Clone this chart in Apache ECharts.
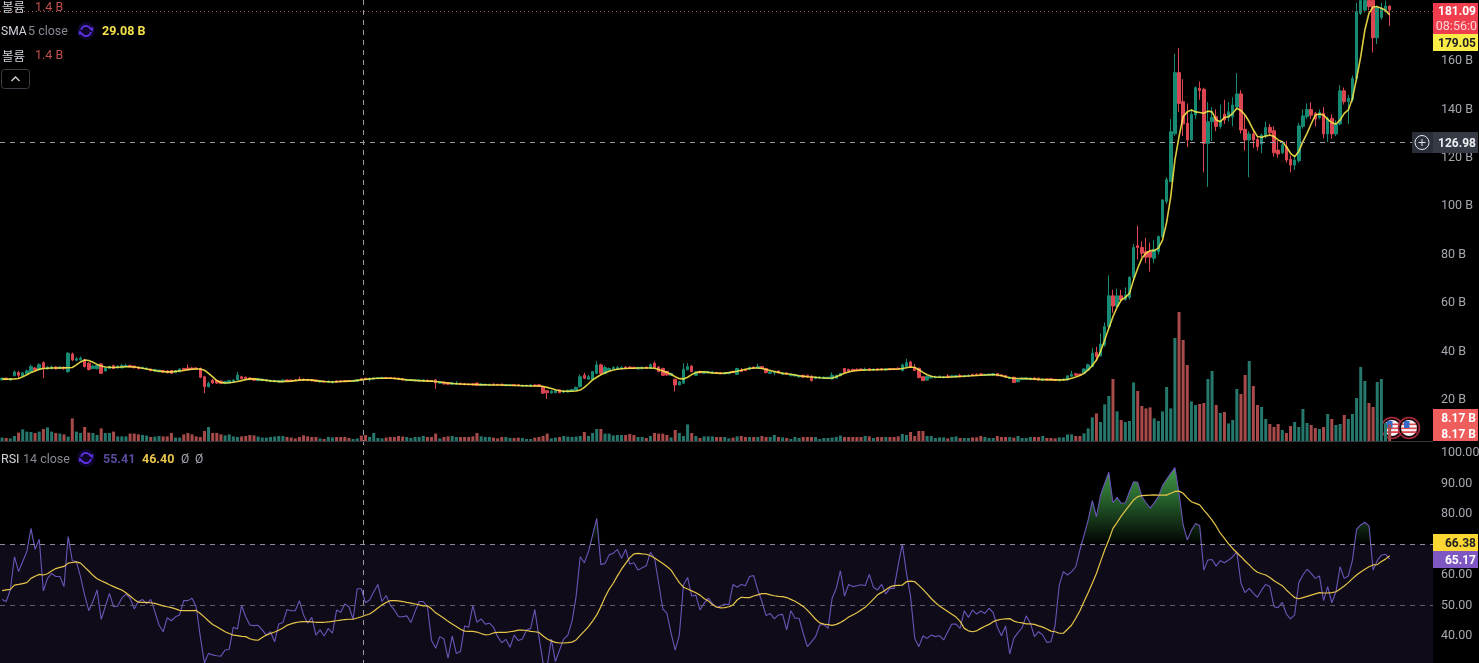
<!DOCTYPE html>
<html><head><meta charset="utf-8">
<style>html,body{margin:0;padding:0;background:#000;overflow:hidden}#c{width:1479px;height:663px}</style>
<script src="https://cdn.jsdelivr.net/npm/echarts@6/dist/echarts.min.js"></script>
</head><body><div id="c"></div>
<script>
const opens=[
28.3,29.0,28.2,30.0,31.3,30.0,30.8,31.6,33.2,32.5,
35.4,32.8,33.0,33.6,33.0,33.5,31.7,39.0,36.4,36.6,
36.6,35.2,33.0,32.9,34.9,32.0,33.0,34.2,33.2,33.3,
33.7,34.3,34.0,33.6,33.0,32.6,32.8,31.9,31.7,32.2,
32.0,32.2,31.3,31.6,33.0,33.2,33.2,33.2,33.0,29.6,
25.5,28.2,28.0,27.8,26.8,27.0,27.4,28.3,29.6,29.4,
29.1,28.9,28.0,28.0,27.9,27.6,27.5,27.4,27.5,28.3,
28.2,28.3,28.6,28.6,28.5,28.4,28.2,27.4,27.8,27.2,
27.1,27.9,27.9,28.0,28.0,27.6,27.7,
28.8,29.0,28.4,28.6,28.8,28.9,29.3,29.3,29.2,29.0,
28.8,28.0,28.0,27.9,27.8,27.8,28.2,28.0,28.3,26.9,
27.4,27.2,26.5,26.4,26.9,26.8,26.6,26.7,27.0,26.0,
26.0,26.0,26.6,26.5,26.5,25.9,25.9,26.4,26.3,25.7,
25.7,25.7,26.2,26.3,25.5,23.8,22.9,23.0,24.2,23.2,
23.3,23.6,24.0,25.5,30.2,28.6,28.5,31,34.5,30.9,
32.2,32.8,32.7,32.9,33.6,33.6,33.5,32.8,32.9,33.6,
33.0,35.2,33.6,33.0,31.8,30.2,28.5,26.2,26.9,32.5,
34.0,30.2,31.8,31.0,31.2,31.0,31.4,
31.3,30.8,30.9,31.8,30.6,32.4,32.6,32.6,33.6,33,
33.8,33,31,31.2,32,30.6,31.2,30,29.9,29.5,
30.2,30.2,29.9,28.8,29,28.9,28.9,28.7,29,30,
33,32.6,32.6,32.7,32.8,32.2,32.9,32.3,32.9,32.9,
32.4,33,33,33.1,32.1,33.8,35.7,33.5,33.1,29.6,
28.2,29.1,29.2,29.3,29.2,29.9,29.5,29.5,30.1,29.6,
29.7,30.6,30.6,30.8,30.1,30.1,30.2,30.9,30.4,30.1,
28.9,29.4,27.5,28.4,28.5,28.4,29.1,29,28.1,28.7,28.8,
28.5,27.9,28.2,28.3,29.8,30.8,30.7,31,32.4,33.8,
39.6,38.2,42.7,50.3,63,58.8,63,61.5,62.4,70.7,
83.7,83,81.3,81.3,78.5,81.3,87.4,102,110.2,130,
155.2,143.2,134.3,127.4,137.7,148.7,148.3,126,134.9,137,
133,138,136.7,137,141,146.4,131.8,127.4,129.9,127.6,
125.7,129,132.6,131.2,123.2,122.1,124.6,119.4,117,118.8,
133,137,140,138.4,136.7,138.4,129.9,136.3,129.9,134,
147.7,143.2,144,152.8,179.7,181,185,185,169.6,178,
181.3,182.7];
const closes=[
29.0,28.4,28.8,31.6,30.2,31.2,32.0,33.8,32.4,34.6,
33.0,33.6,33.7,32.9,33.6,33.0,39.3,36.5,37.0,37.3,
33.8,32.6,34.0,34.2,31.0,33.2,33.8,33.0,33.9,34.2,
34.2,33.6,33.3,32.9,33.5,33.2,32.1,32.6,32.3,31.6,
31.2,31.0,32.0,32.8,32.4,32.5,32.7,32.8,29.4,25.5,
26.9,27.0,27.0,26.9,27.6,28.0,28.2,30.3,28.8,28.8,
28.4,28.1,28.8,28.6,28.4,28.1,28.0,28.0,28.2,27.7,
27.8,28.0,28.1,28.1,28.0,27.9,27.7,27.9,27.4,27.8,
27.7,27.3,27.5,27.6,27.7,28.0,28.3,
28.3,28.5,28.9,29.1,29.2,29.3,28.9,28.9,28.8,28.6,
28.3,28.5,28.4,28.3,28.2,28.3,27.8,27.6,27.0,27.5,
26.6,26.5,27.2,27.0,26.4,26.3,26.2,26.2,26.0,26.6,
26.5,26.5,26.2,26.1,26.0,26.4,26.3,26.0,25.9,26.1,
26.1,26.2,25.8,25.6,22.8,23.0,23.7,24.0,23.0,23.8,
24.0,24.3,25.2,29.6,29.0,29.6,31.7,34.5,31,33.4,
33,33.4,33.4,33.5,33,33,33,33.4,33.5,33.1,
34.6,33.4,31.8,30.2,30.3,31.0,26.2,27.5,32.7,33.8,
31.7,31.6,31.2,31.6,31.7,31.6,31.0,
30.9,31.3,31.4,31.3,33,31.8,32.1,33.4,33,33.8,
33.1,31.3,31.6,31.8,31.2,31.2,30.6,30.6,30.5,30.1,
29.4,29.4,28,29.4,29.5,29.4,29.4,30.2,30.2,31,
31.2,31.9,32,32.1,32.3,32.7,32.3,32.8,32.4,32.4,
32.9,32.5,32.6,32.6,34.5,35.4,33.5,32.2,29.2,28,
29.8,29.6,29.7,29.8,29.7,29.4,30,30.1,29.6,30.1,
30.2,30.1,30.2,30.2,30.6,30.7,30.8,30,30,29.4,
29.4,27.2,28.4,29,29.1,29,28.5,28.3,28.7,28.2,28.3,
28,28.4,28.6,30,30.6,30.2,30.3,32.8,34.5,39.3,
37.9,43.1,50.3,63,58.8,63,61.3,63.4,70.7,83,
83,80.6,79,79,82.2,87.5,102.6,111,130.8,155.2,
142.5,134,127.4,138,149,147.8,126,134.9,136.7,133,
135.5,135.6,139,141.8,146.4,131.5,127.4,129.9,127.4,124.6,
129.4,132.5,130.4,122.1,121.6,125.3,119.1,117,119.1,133.2,
137.3,140,137.6,136,138.7,129.9,136.3,129.9,134,147.7,
143.2,144.6,152.8,180.4,185,185,182.5,169.6,182.2,181.8,
182.7,181.09];
const highs=[
29.2,29.2,29.1,32.2,32.0,31.5,32.6,34.6,33.6,35.2,
36.0,34.0,34.2,34.0,34.0,33.8,39.8,39.6,37.8,38.0,
37.0,35.6,34.6,34.6,35.2,33.6,34.2,34.6,34.4,34.8,
35.0,34.5,34.2,33.8,33.8,33.5,33.0,32.9,32.6,32.4,
32.3,32.4,32.3,33.1,33.3,34.6,33.5,33.6,33.4,30.0,
27.6,28.6,28.3,28.0,27.9,28.3,28.6,31.6,30.0,29.7,
29.4,29.1,29.0,28.9,28.6,28.4,28.3,28.3,28.6,28.5,
28.4,28.6,29.6,28.8,28.7,28.6,28.4,28.1,28.0,28.0,
27.9,28.1,28.1,28.2,28.2,28.2,28.6,
29.0,29.2,29.3,29.4,29.5,29.6,29.5,29.5,29.4,29.2,
29.0,28.7,28.6,28.5,28.4,28.6,28.4,28.2,28.6,27.8,
27.6,27.4,27.5,27.8,27.1,27.0,26.8,26.9,27.2,26.9,
26.7,26.7,26.8,26.6,26.7,26.6,26.5,26.6,26.5,26.3,
26.3,26.6,26.4,26.5,25.7,24.0,23.9,24.2,24.4,24.0,
24.3,24.6,25.6,30.6,31.2,30.4,32,36,35,34.2,
33.4,34.0,34.2,33.9,34.0,34.0,33.8,33.8,33.8,33.8,
35.0,36.0,34.0,33.4,32.0,31.2,28.8,27.8,35.2,35.2,
34.4,31.9,32.1,31.9,32.0,31.9,31.6,
31.5,31.5,31.6,32.0,33.3,33.2,32.8,33.8,33.8,35,
34,33.3,31.9,32,32.2,31.5,31.4,30.8,30.8,30.4,
30.4,30.4,30.1,29.7,29.8,29.7,29.6,31.4,30.4,31.2,
33.2,32.9,32.9,33,33,33.4,33.2,33,33.1,33.1,
33.1,33.2,33.2,33.4,35,37,36.2,34.8,33.3,29.9,
30,30.2,30.0,30.1,29.9,30.7,30.3,30.3,30.8,30.4,
30.6,30.8,31,31,30.8,30.9,31,31.2,30.6,30.3,
29.6,29.6,28.6,29.3,29.4,29.3,29.4,29.3,28.9,28.9,29,
28.8,28.6,28.9,30.2,32,31.2,30.9,33,35,41.4,
42,47.5,52,71.5,65.5,66,65.5,66.5,71,84.5,
92,85.5,87,85,86,88,103,112,136,163,
165.3,152.5,142.5,140,149.5,151.5,149,143,141,140,
142,144,143,145,155,148,138,131,131,129,
130,135,134,133,127,127,127,121,121,134.5,
140,142.5,143,139,140,141,137,138,135.5,150,
149,146,154,184,187,187,187,187,183,184,
185,183];
const lows=[
28.1,28.2,28.0,29.8,28.6,29.6,30.6,31.4,31.8,32.2,
29.0,32.6,32.6,32.6,32.8,32.4,31.2,36.0,36.0,36.2,
33.4,32.2,32.7,32.6,30.8,31.8,32.8,32.8,33.0,33.0,
33.5,33.4,33.1,32.7,32.8,32.4,31.9,31.7,31.4,31.3,
31.0,30.8,31.1,31.4,32.2,32.3,32.4,32.5,29.0,22.8,
25.2,26.6,26.6,26.5,26.5,26.8,27.2,28.1,28.5,28.5,
28.2,27.9,27.8,27.8,27.7,27.4,27.3,27.2,27.3,27.5,
27.6,27.8,27.9,27.9,27.8,27.7,27.5,27.2,27.2,27.0,
26.9,27.1,27.3,27.4,27.5,27.4,27.5,
28.1,28.3,27.6,28.4,28.6,28.7,28.7,28.7,28.6,28.4,
28.1,27.8,27.8,27.7,27.6,27.6,27.6,27.4,24.6,26.7,
26.4,26.2,26.3,26.2,26.2,26.1,26.0,26.0,25.7,25.8,
25.8,25.8,26.0,25.9,25.8,25.7,25.7,25.8,25.7,25.5,
25.5,25.5,25.6,25.4,22.6,20.4,22.7,22.8,22.8,22.9,
23.1,23.4,23.8,25.2,28.6,28.4,28.2,30.7,30.6,30.6,
32,32.6,32.5,32.7,32.8,32.8,32.8,32.6,32.7,32.9,
32.8,33.0,31.4,30.0,30.0,30.0,23.5,26.0,26.7,32.2,
31.4,30.0,31.0,30.8,31.0,30.8,30.8,
30.7,30.6,30.7,31.1,30.4,31.6,31.9,32.4,32.8,32.8,
32.9,31,30.8,30.2,31,30.4,30.4,29.8,29.7,29.3,
29.2,29.2,27.6,28.6,28.8,28.6,28.6,28.5,28.8,29.8,
31,31.6,31.8,31.9,32,32,32,32.1,32.2,32.2,
32.2,32.3,32.4,32.4,32,33.6,33.2,32,29,27.8,
28,28.9,29,29.1,29,29.2,29.3,29.3,29.4,29.4,
29.5,29.9,30,30,29.9,29.9,30,29.8,29.8,29.2,
28.7,27,27.3,28.2,28.3,28.2,28.3,27.8,27.9,28,28.1,
27.8,27.7,28,28,29.6,29.9,30.1,30.8,32,33.5,
36,38,42,49,56,58,60.5,61,61.5,69,
78,79,76.5,73,76.6,80,87,101,110,129,
139,129,124.5,127,136,144,114,108,127,131,
132,134,135,133,140,130,123,112,124,123,
122,128,129,120.5,120,121.5,118,114,115,118,
132,136,136,133,136,128,126.5,128,129,133.5,
142,134,143,152,179,180,181,163.5,167,177,
180,174.5];
const volumes=[
1.7,1.5,1.3,2.5,4.2,5.8,4.7,4.5,4,4.7,
6,6.8,4.7,4,3.7,3.3,2.2,11.3,4.7,4,
7,4.2,4,3,6.3,4,4,4.7,2.3,2.3,
2.3,3.7,3.7,3.3,3,2.7,2,2.2,2.5,2.3,
2.3,4,1.7,1.7,3.3,4,3.3,2.3,2,5,
7,4,4,3.3,2.8,3.3,2.3,2,2.3,2.5,
3,2.8,2.2,1.7,1.7,2,2.2,2.5,2.5,2,
1.7,1.3,2,2.8,2.3,2,2,1.3,1,2,
1.8,2,2,2,1.5,1,1.3,
2.7,3,2,4,1.5,1.3,1.7,2,2,2.5,
2.2,2,1.5,2,2,2.5,2,2,3.7,1.3,
2,2.3,2.5,2,2,2,2,2.3,4,2.3,
2,2,1.7,1.3,2,2,1.5,1.5,1.7,1.5,
1,1,1.7,2,2.5,3.7,1.3,1.7,2,2.5,
2.2,2,2.2,2.5,4.5,2.5,4,6,6,3.7,
3.7,2.8,3,3,3,3.5,3,2,2,1.5,
2.5,4,3.7,3.7,3,1.8,5.5,4,2.5,8.3,
4,2.5,1.5,2.3,2.3,2.3,2,
2,2,1.3,1.7,2.3,2.5,2,2,2,2,
2.5,2,2,3,2,1.8,1.5,1,2,1.5,
2,2,2,2,1,1.5,1.5,1.7,2,2.7,
2,2,2,2,2,2.5,2.3,1.5,2,2,
2,2,2,2.3,3.5,3,4.5,2.5,5,5,
2.5,2.5,1.5,1.8,1.8,1.3,2,2.3,1.5,1.5,
1.5,1.8,1.8,2.5,2,1.5,1.5,2.5,2,2,
2,1.7,2.5,1.5,1.5,2,2,2,2.5,1.5,1.5,
1.3,1.8,1.8,3.3,3.3,2.5,2.5,3.8,6.3,11.8,
13.8,9.5,18.3,22.5,31,14.8,10.5,9.5,10,29.3,
25,17.5,16.3,16.8,11.3,10,14.8,27,16.3,51.5,
64.5,50.5,38,19.8,18,18.5,19,31,35,18,
14,14.5,8.8,10.5,26,23.5,33,40,27.5,18,
17,11,8.5,7,8.5,5.5,4,7.5,9.5,7,
16,9,8,6.5,6,7,13.5,11,8,8.5,
13,11,13.5,21.5,37,30,19,17,29.5,31,
9,8.17];
const sma5=[
28.7,28.6,28.6,28.7,28.9,29.6,30.4,31.3,32,32.7,
33,33.1,33.2,33.2,33.2,33.3,33.3,33.4,34.5,35.7,
36.5,36.3,35.6,34.7,34,33.6,33.5,33.4,33.5,33.6,
33.7,33.7,33.6,33.4,33.1,32.8,32.5,32.2,31.9,31.7,
31.6,31.6,31.8,32,32.2,32.5,32.7,32.8,32.8,32.3,
31,29.5,28,27.2,27,27.1,27.3,27.6,28,28.4,
28.7,28.7,28.5,28.3,28.1,27.9,27.8,27.6,27.6,27.7,
27.8,28,28.2,28.3,28.3,28.2,28,27.8,27.6,27.5,
27.4,27.5,27.6,27.7,27.8,27.9,28.1,28.3,28.5,28.7,
28.9,29,29,29,29,28.9,28.7,28.5,28.3,28.2,
28.1,28,27.9,27.8,27.8,27.6,27.4,27.2,27,26.8,
26.7,26.6,26.5,26.5,26.4,26.4,26.3,26.3,26.2,26.2,
26.2,26.2,26.1,26.1,26,26,25.9,25.9,25.8,25.8,
25.8,25.6,25.2,24.7,24.2,23.8,23.6,23.6,23.6,23.7,
24.1,25.2,26.7,28.3,29.4,30.4,31.2,31.9,32.4,32.7,
32.9,33,33.1,33.1,33.2,33.2,33.2,33.2,33.1,32.6,
32,31.4,30.6,29.6,28.8,28.7,29.4,30.5,31.3,31.6,
31.6,31.4,31.2,31.1,31,31.1,31.3,31.6,31.9,32.3,
32.7,33,33.2,33.2,33,32.6,32.2,31.8,31.4,31,
30.8,30.6,30.3,30,29.8,29.6,29.5,29.4,29.2,29.1,
29,29.1,29.6,30.3,31,31.6,32,32.2,32.3,32.4,
32.4,32.5,32.5,32.6,32.6,32.7,32.7,32.8,33,33.3,
33.6,33.4,32.5,31.4,30.4,29.8,29.5,29.4,29.4,29.4,
29.5,29.6,29.7,29.8,29.9,30,30.1,30.2,30.3,30.4,
30.5,30.3,30,29.6,29.2,29,28.9,28.9,28.8,28.7,
28.6,28.5,28.4,28.4,28.3,
28.3,28.3,28.3,28.5,29,29.5,30.1,31,32.4,34.2,
36.5,40,44.8,49.6,54.4,58.3,61.3,62.4,64,69.6,
74.4,78.5,80.6,81.7,81.7,82.7,86,93.4,104,119,
128.8,137,139,139.8,139,138.7,138.4,139.3,139,135.6,
134.9,136.7,137,138.4,140.5,139.5,137.7,134.9,131.5,128.8,
128.5,129,129.4,128.8,127.4,126.7,124.6,121.9,120.5,122.6,
126.7,130.1,134,137.7,138.1,137.7,135.9,134.5,134,135.6,
138.4,139.8,144.6,152.8,161.8,172.8,179.7,182.4,182.4,181.8,
181,179.05];
const rsi14=[
52.0,51.3,55.1,66,61.1,64.4,67.7,75.3,68.4,71.7,
54.8,58.9,60.5,59.5,59.5,56.2,72.6,64.7,64.4,59.5,
53.4,48.3,51.3,55.1,45.5,49.6,54,49.6,49.8,52.4,
53.7,52.4,48.9,51.3,52,50.5,52,48,43.6,41.4,
46,45,46.3,46.9,51.6,51.6,52.4,49.6,39.8,31.2,
34.3,33.8,33.5,33.4,35.4,35.6,42.9,42.3,50,46.3,
43.6,43.4,43.5,42,40.3,41.4,38.1,43.9,44.4,48.7,
48.3,48.3,51.6,46.9,44.2,46.1,40.3,42,40,42.5,
40.9,48.5,47.8,50.5,49.6,45.5,55.5,55.5,50.9,51.8,
54.5,56.9,51.3,53.3,50.2,48.5,46.3,46.3,46.6,44.4,
48,51.3,51.3,49.6,38.5,36,39.8,39,32.7,40,
34.3,34.9,43.3,42.9,50,44.5,45.6,43.9,44.2,42.9,
39.8,37.8,38.9,36.3,40.3,38.5,39,42,42.5,48.7,
39.8,31.2,30,39,31.6,35.4,39,40.3,44.7,52.9,
66,64,67.7,73.1,78.6,63.4,63.8,66.6,67.1,68.4,
65.5,68.4,63.6,64,61.6,62.4,63,67.4,65.5,57.3,
48.9,47.4,40.9,35.4,40.3,56.7,59.2,53.1,53.4,48.5,
50.7,52.4,50.7,49.4,49.8,50.5,50.2,56.9,56,56.9,
56.5,59.5,59.8,55.1,51.3,46.7,47.4,45.6,46.9,47.1,
42,48.3,45.8,45.8,40.9,36.5,38.1,39.8,43.6,43.8,
42.5,52.4,55.6,61.4,53.1,56.9,56.2,56.5,56.8,56.5,
60.2,56,55.1,56.9,53.8,55.6,55.6,63.3,70.1,60.6,
52.9,39.2,36.5,40,39.2,40.3,39.8,40.1,38.7,41.4,
43.9,43.9,42.5,48.3,46.1,48.5,47.2,48.2,47.4,49.1,
47.7,42.9,40.1,43.3,34.1,39.2,41.1,42.7,46.6,44.2,
39.8,41.4,40.3,37.9,38.1,43.6,56.7,61.1,
60,61.1,62.7,68.2,73.1,78,84.4,79.1,86.2,90,
93.7,83.7,85.5,83.5,83.7,87.3,90.6,90.4,85.7,83.7,
81.9,83.7,85.7,89.3,91.4,93.3,95.2,86.8,76.4,71.5,
74.7,76.9,76.2,61.6,64.9,65.1,62.9,64.7,64,64.9,
66,67.6,57.3,54.2,55.6,54,52.7,55.1,56.9,56.2,
49.6,49.3,51,47.2,45.6,46.9,57.5,60,61.9,60.5,
58.9,59.7,51.6,56.2,50.9,54.5,62.7,58.9,59.7,64.9,
75,76.4,77.3,76.1,61.6,64.7,66.5,66.8,65.2];
const rsiMa=[
54.9,55.1,55.3,56.7,56.9,57.2,57.5,58.9,59.6,60.2,
60,60.4,61.3,62.1,62.5,62.8,63.9,64.1,64.3,63.9,
62.6,61.3,59.9,58.8,58.1,57.5,56.8,56.2,55.6,55.1,
54.2,53.1,52,51.1,51,51,50.9,50.7,50.3,49.9,
49.6,49.3,48.9,48.4,48.3,48.3,48.3,48.4,47.4,46.2,
44.9,43.8,43,42.2,41.4,40.8,40.3,40.1,39.9,39.8,
39.1,38.7,38.6,39.5,40.3,40.8,41.3,41.9,42.6,43.5,
44,44.4,44.6,44.7,44.7,44.6,44.5,44.5,44.5,44.6,
44.8,45,45.2,45.4,45.5,45.5,45.9,46.3,46.8,47.2,
48.1,49.2,50.2,51,51.6,51.6,51.5,51.3,51,50.8,
50.5,50.2,49.9,49.9,48.9,47.6,46.7,45.8,44.8,43.9,
43.1,42.2,41.6,41.5,41.5,41.3,40.8,40.4,40.5,41,
41.2,41.2,41.2,41.4,41.6,41.9,41.9,41.8,41.5,41.4,
41.2,40,39,38.4,37.9,37.7,37.7,37.8,38,38.7,
40.2,41.6,43.1,44.9,46.9,49.6,52.7,55.3,57.3,59.7,
61.9,63.8,65.7,66.9,67.1,66.9,66.8,66.3,65.6,64.7,
63.8,62.8,61.6,59.5,57.5,56,55.4,54.8,54.2,53.4,
52.3,51.5,50.3,49.5,49.2,49.3,49.6,50.2,51.8,52.7,
52.6,52.6,53.1,53.5,53.9,53.9,53.5,53.2,53,52.9,
52.6,52,51.4,50.6,49.7,48.5,47,45.5,44.3,43.9,
43.7,43.5,43.8,44.4,45.2,46.2,46.9,47.6,48.5,49.4,
50.7,52.1,53.5,54.3,55.2,56.1,56.5,56.6,56.7,57.8,
58,57.8,56.6,55.3,53.8,52.3,51,49.8,48.9,48,
47.1,46.2,44.8,42.5,41.7,41.4,41.7,42.5,43.2,43.8,
44.7,45.2,45.5,45.6,45.7,44.9,44.5,44.3,44,44,
43.8,43.3,42.9,42.3,41.6,
41.4,40.9,40.9,42.2,43.6,45.8,48.3,51.3,54.2,57.3,
60.5,64.4,68.2,71.5,75.3,77.2,79.3,81.1,82.8,84.6,
85.7,86,86.1,86.2,86.3,86.2,86.2,86.2,86.8,87.4,
87.5,86.8,85.3,84,83.5,83,81.3,79.7,78,76,
73.7,72,70.2,68.7,67.3,66,64.6,63.3,61.9,60.9,
60.4,60,59.2,58.1,57.3,56.5,55.1,53.8,52.6,52.2,
52.6,53,53.4,53.8,54.2,54.1,54.1,54.2,54.5,55.4,
56.4,57.5,58.8,60,61,61.9,62.7,63.3,63.4,64.4,
65.2,66.3];
const slots=347;
const categories=Array.from({length:slots},(_,i)=>String(i+1));
const priceTicks=[20,40,60,80,100,120,140,160];
const crosshairLine=126.5,lastLine=180.7,obLevel=70,midLevel=50,rsiFloor=30;

const UP='#168a72',DOWN='#dc4650',VUP='#26786c',VDOWN='#a84a4a',SANS='Roboto,"Noto Sans",sans-serif',KR='"Noto Sans CJK KR","Noto Sans",sans-serif';
const candleData=opens.map((o,i)=>[o,closes[i],lows[i],highs[i]]);
const volData=volumes.map((v,i)=>({value:v,itemStyle:{color:closes[i]>=opens[i]?VUP:VDOWN}}));
const W=1433;
const hidden={show:false};
const xA=g=>({type:'category',gridIndex:g,data:categories,boundaryGap:true,axisLine:hidden,axisTick:hidden,axisLabel:hidden,splitLine:hidden});
const lab=(s,x,y,c,o={})=>({type:'text',x,y,silent:true,z:100,style:Object.assign({text:s,fill:c,font:'12px '+SANS,textVerticalAlign:'middle'},o)});
const box=(x,y,w,h,c)=>({type:'rect',silent:true,z:90,shape:{x,y,width:w,height:h},style:{fill:c}});
const tagText=(s,y,c)=>lab(s,1476,y,c,{textAlign:'right',font:'bold 12px '+SANS});
const sync=(cx,cy)=>({type:'group',silent:true,z:100,x:cx,y:cy,children:[
 {type:'circle',shape:{r:9},style:{fill:'rgba(70,30,190,0.22)'}},
 {type:'arc',shape:{r:5,startAngle:-2.9,endAngle:-0.4},style:{stroke:'#5a30e0',fill:'none',lineWidth:2}},
 {type:'arc',shape:{r:5,startAngle:0.2,endAngle:2.7},style:{stroke:'#5a30e0',fill:'none',lineWidth:2}},
 {type:'polygon',shape:{points:[[2.5,-3.5],[7.5,-3.5],[6.5,1]]},style:{fill:'#5a30e0'}},
 {type:'polygon',shape:{points:[[-2.5,3.5],[-7.5,3.5],[-6.5,-1]]},style:{fill:'#5a30e0'}}]});
const flag=(cx,cy)=>({type:'group',silent:true,z:95,x:cx,y:cy,children:[
 {type:'circle',shape:{r:10.5},style:{fill:'#1a0508',stroke:'#a82a40',lineWidth:1.5}},
 {type:'circle',shape:{r:8},style:{fill:'#f3f3f6'}},
 {type:'rect',shape:{x:-7,y:-4.5,width:14,height:1.6},style:{fill:'#e04a50'}},
 {type:'rect',shape:{x:-8,y:-0.5,width:16,height:1.6},style:{fill:'#e04a50'}},
 {type:'rect',shape:{x:-7.4,y:3.2,width:15,height:1.8},style:{fill:'#e04a50'}},
 {type:'rect',shape:{x:-5,y:-7,width:5.5,height:7},style:{fill:'#3568c8'}}]});
const chart=echarts.init(document.getElementById('c'),null,{renderer:'canvas'});
chart.setOption({
 animation:false,backgroundColor:'#000',
 grid:[
  {left:0,top:0,width:W,height:448.4,outerBoundsMode:'none',containLabel:false},
  {left:0,top:0,width:W,height:441,outerBoundsMode:'none',containLabel:false},
  {left:0,top:453,width:W,height:213.5,outerBoundsMode:'none',containLabel:false}],
 xAxis:[xA(0),xA(1),xA(2)],
 yAxis:[
  {type:'value',gridIndex:0,position:'right',min:0,max:185.2,interval:20,splitLine:hidden,axisLine:hidden,axisTick:hidden,
   axisLabel:{color:'#a6a9b2',fontFamily:SANS,fontSize:12.5,margin:8,padding:[4,0,0,0],formatter:v=>priceTicks.includes(v)?v+' B':''}},
  {type:'value',gridIndex:1,min:0,max:220.5,show:false},
  {type:'value',gridIndex:2,position:'right',min:rsiFloor,max:100,interval:10,splitLine:hidden,axisLine:hidden,axisTick:hidden,
   axisLabel:{color:'#a6a9b2',fontFamily:SANS,fontSize:12.5,margin:8,padding:[3,0,0,0],formatter:v=>v>rsiFloor?v.toFixed(2):''}}],
 series:[
  {type:'bar',xAxisIndex:1,yAxisIndex:1,data:volData,barWidth:3,z:1},
  {type:'candlestick',xAxisIndex:0,yAxisIndex:0,data:candleData,barWidth:3,z:2,
   itemStyle:{color:UP,color0:DOWN,borderColor:UP,borderColor0:DOWN,borderWidth:1},
   markLine:{silent:true,symbol:'none',label:hidden,animation:false,data:[
    {yAxis:crosshairLine,lineStyle:{color:'#9a9da6',type:[5,5],width:1}},
    {yAxis:lastLine,lineStyle:{color:'#a8565c',type:[1,3],width:1}}]}},
  {type:'line',xAxisIndex:0,yAxisIndex:0,data:sma5,showSymbol:false,smooth:false,z:3,lineStyle:{color:'#fbe84a',width:1.6,opacity:0.88}},
  {type:'line',xAxisIndex:2,yAxisIndex:2,data:rsi14.map(v=>Math.max(v,obLevel)),showSymbol:false,z:2,lineStyle:{width:0},
   areaStyle:{origin:obLevel,opacity:1,color:{type:'linear',global:true,x:0,y:465,x2:0,y2:545,colorStops:[{offset:0,color:'#45a04a'},{offset:0.45,color:'#245c2a'},{offset:1,color:'#000'}]}},
   markArea:{silent:true,itemStyle:{color:'#0f0b18'},label:hidden,data:[[{yAxis:obLevel},{yAxis:rsiFloor}]]}},
  {type:'line',xAxisIndex:2,yAxisIndex:2,data:rsi14,showSymbol:false,z:4,lineStyle:{color:'#6b55b8',width:1.1},
   markLine:{silent:true,symbol:'none',label:hidden,animation:false,data:[
    {yAxis:obLevel,lineStyle:{color:'#8a8d96',type:[5,5],width:1}},
    {yAxis:midLevel,lineStyle:{color:'#5f606a',type:[5,5],width:1}}]}},
  {type:'line',xAxisIndex:2,yAxisIndex:2,data:rsiMa,showSymbol:false,z:5,lineStyle:{color:'#e6c54a',width:1.2}}
 ],
 graphic:[
  {type:'line',silent:true,z:20,shape:{x1:363.5,y1:0,x2:363.5,y2:663},style:{stroke:'#9a9da6',lineWidth:1,lineDash:[5,5]}},
  {type:'line',silent:true,z:20,shape:{x1:0,y1:441.5,x2:1433,y2:441.5},style:{stroke:'#33363f',lineWidth:1}},
  lab('볼륨',2,7.5,'#d1d4dc',{font:'12.5px '+KR}),lab('1.4 B',35,7.5,'#c04f4f',{font:'12.5px '+SANS}),
  lab('SMA',1,32,'#d1d4dc',{font:'12px '+SANS}),lab('5 close',28,32,'#868993',{font:'12.5px '+SANS}),sync(86,31),lab('29.08 B',102,32,'#f5e04a',{font:'bold 12.5px '+SANS}),
  lab('볼륨',2,56,'#d1d4dc',{font:'12.5px '+KR}),lab('1.4 B',35,56,'#c04f4f',{font:'12.5px '+SANS}),
  {type:'rect',silent:true,z:100,shape:{x:1.5,y:69.5,width:28,height:19,r:3},style:{fill:'#000',stroke:'#3a3d46',lineWidth:1}},
  {type:'polyline',silent:true,z:101,shape:{points:[[11.5,81],[15.5,77],[19.5,81]]},style:{stroke:'#d1d4dc',fill:'none',lineWidth:1.3}},
  lab('RSI',1,459.5,'#d1d4dc',{font:'12.5px '+SANS}),lab('14 close',23,459.5,'#868993',{font:'12.5px '+SANS}),sync(86,458),
  lab('55.41',103,459.5,'#5a4a9c',{font:'bold 12.5px '+SANS}),lab('46.40',142,459.5,'#e6c54a',{font:'bold 12.5px '+SANS}),lab('Ø',181,459.5,'#a6a9b2'),lab('Ø',195,459.5,'#a6a9b2'),
  box(1433,3,45,31,'#f03d4e'),box(1433,34,45,17,'#faec46'),
  tagText('181.09',12,'#fff'),lab('08:56:0',1477,27,'#fbd5d8',{textAlign:'right',font:'12.5px '+SANS}),tagText('179.05',44,'#222'),
  box(1412,132,21,21,'#2a2e39'),box(1433,132,45,21,'#363a45'),
  {type:'circle',silent:true,z:95,shape:{cx:1422,cy:142.5,r:7},style:{fill:'none',stroke:'#e6e7ea',lineWidth:1}},
  {type:'line',silent:true,z:95,shape:{x1:1418.5,y1:142.5,x2:1425.5,y2:142.5},style:{stroke:'#e6e7ea',lineWidth:1}},
  {type:'line',silent:true,z:95,shape:{x1:1422,y1:139,x2:1422,y2:146},style:{stroke:'#e6e7ea',lineWidth:1}},
  tagText('126.98',144,'#eceef2'),
  box(1433,409,45,32,'#ef5d5d'),tagText('8.17 B',418.5,'#fff'),tagText('8.17 B',435,'#fff'),
  flag(1392,428),flag(1409,428),
  box(1433,534,45,17,'#fdd835'),box(1433,551,45,17,'#7e57c2'),
  tagText('66.38',543.5,'#222'),tagText('65.17',560.5,'#fff')
 ]
});
</script></body></html>
